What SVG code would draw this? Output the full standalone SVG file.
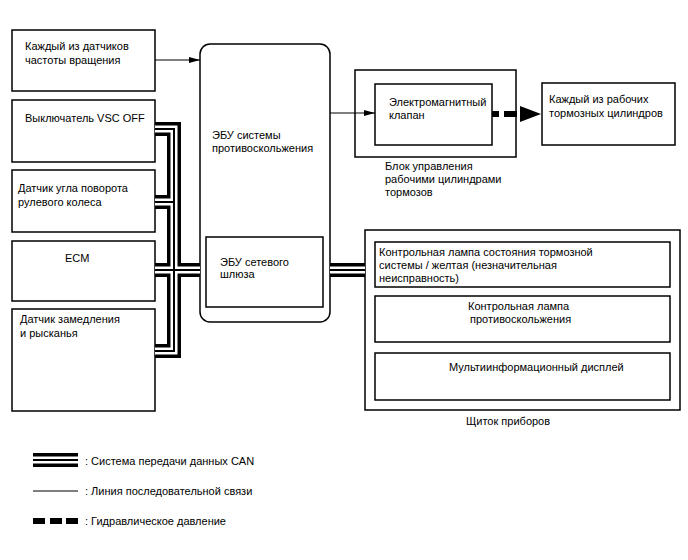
<svg xmlns="http://www.w3.org/2000/svg" width="688" height="560" viewBox="0 0 688 560">
<defs>
<style>
.box{fill:#fff;stroke:#000;stroke-width:1.5}
.t{font-family:"Liberation Sans",Arial,sans-serif;font-size:11px;fill:#000}
.cb{fill:none;stroke:#000;stroke-width:14}
.cw{fill:none;stroke:#fff;stroke-width:7}
.ct{fill:none;stroke:#000;stroke-width:2}
.ln{fill:none;stroke:#000;stroke-width:1.2}
</style>
<marker id="ah" markerWidth="11" markerHeight="6" refX="11" refY="3" orient="auto" markerUnits="userSpaceOnUse">
<path d="M0,0 L11,3 L0,6 Z" fill="#000"/>
</marker>
</defs>
<rect width="688" height="560" fill="#fff"/>

<g id="n-speed"><rect class="box" x="12" y="30" width="143" height="61"/>
<text class="t" x="25" y="50">Каждый из датчиков</text><text class="t" x="25" y="64">частоты вращения</text></g>
<g id="n-vscoff"><rect class="box" x="12" y="100" width="143" height="62"/>
<text class="t" x="25" y="122">Выключатель VSC OFF</text></g>
<g id="n-steer"><rect class="box" x="12" y="170" width="143" height="62"/>
<text class="t" x="18" y="192">Датчик угла поворота</text><text class="t" x="18" y="206">рулевого колеса</text></g>
<g id="n-ecm"><rect class="box" x="12" y="241" width="143" height="60"/>
<text class="t" x="65" y="262">ECM</text></g>
<g id="n-yaw"><rect class="box" x="12" y="309" width="143" height="102"/>
<text class="t" x="20" y="323">Датчик замедления</text><text class="t" x="20" y="337">и рысканья</text></g>

<g id="n-ecu"><rect class="box" x="200" y="44" width="130" height="278" rx="10" ry="10"/>
<text class="t" x="212" y="139">ЭБУ системы</text><text class="t" x="212" y="152">противоскольжения</text></g>
<g id="n-gateway"><rect class="box" x="206" y="237" width="117" height="70"/>
<text class="t" x="220" y="266">ЭБУ сетевого</text><text class="t" x="220" y="278">шлюза</text></g>

<g id="n-actuator"><rect class="box" x="355" y="70" width="161" height="87"/>
<text class="t" x="385" y="170">Блок управления</text><text class="t" x="385" y="183">рабочими цилиндрами</text><text class="t" x="385" y="196">тормозов</text></g>
<g id="n-valve"><rect class="box" x="375" y="84" width="117" height="61"/>
<text class="t" x="389" y="106">Электромагнитный</text><text class="t" x="389" y="119">клапан</text></g>
<g id="n-cyl"><rect class="box" x="542" y="83" width="133" height="62"/>
<text class="t" x="549" y="103">Каждый из рабочих</text><text class="t" x="549" y="117">тормозных цилиндров</text></g>

<g id="n-meter"><rect class="box" x="365" y="230" width="315" height="180"/>
<text class="t" x="466" y="425">Щиток приборов</text></g>
<g id="n-brake"><rect class="box" x="375" y="242" width="295" height="45"/>
<text class="t" x="379" y="256">Контрольная лампа состояния тормозной</text><text class="t" x="379" y="269">системы / желтая (незначительная</text><text class="t" x="379" y="282">неисправность)</text></g>
<g id="n-slip"><rect class="box" x="375" y="296" width="295" height="46"/>
<text class="t" x="468" y="310">Контрольная лампа</text><text class="t" x="470" y="323">противоскольжения</text></g>
<g id="n-mid"><rect class="box" x="375" y="353" width="295" height="47"/>
<text class="t" x="449" y="371">Мультиинформационный дисплей</text></g>

<g id="connectors">
<line class="ln" x1="155" y1="60" x2="200" y2="60" marker-end="url(#ah)"/>
<line class="ln" x1="330" y1="113" x2="375" y2="113" marker-end="url(#ah)"/>
<rect x="492" y="111" width="7" height="6" fill="#000"/>
<rect x="504" y="111" width="13" height="6" fill="#000"/>
<path d="M520,106 L541,114 L520,122 Z" fill="#000"/>
<g id="can">
<path class="cb" d="M155,129 H174 V351 H155 M155,202 H174 M155,270 H200 M330,270 H365"/>
<path class="cw" d="M155,129 H174 V351 H155 M155,202 H174 M155,270 H200 M330,270 H365"/>
<path class="ct" d="M155,129 H174 V351 H155 M155,202 H174 M155,270 H200 M330,270 H365"/>
</g>
</g>

<g id="legend">
<path class="cb" d="M33,460 H78"/><path class="cw" d="M33,460 H78"/><path class="ct" d="M33,460 H78"/>
<text class="t" x="85" y="465">: Система передачи данных CAN</text>
<line class="ln" x1="33" y1="491" x2="78" y2="491"/>
<text class="t" x="85" y="495">: Линия последовательной связи</text>
<rect x="33" y="518" width="12" height="6" fill="#000"/>
<rect x="50" y="518" width="12" height="6" fill="#000"/>
<rect x="66" y="518" width="12" height="6" fill="#000"/>
<text class="t" x="85" y="525">: Гидравлическое давление</text>
</g>
</svg>
